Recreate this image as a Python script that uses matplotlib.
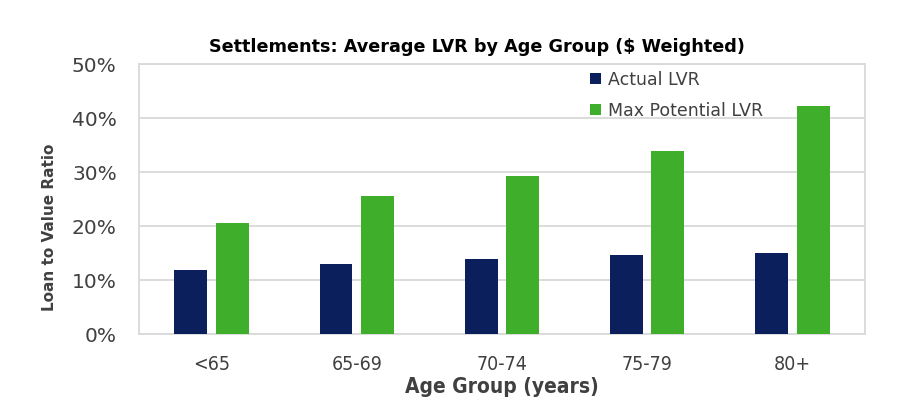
import numpy as np
import matplotlib.pyplot as plt
from matplotlib.ticker import PercentFormatter

# values (percent)
age_groups = ['<65', '65-69', '70-74', '75-79', '80+']
actual_lvr = [11.9, 13.1, 14.0, 14.6, 15.1]
max_potential_lvr = [20.6, 25.7, 29.4, 33.9, 42.2]

navy = '#0A1F5C'
green = '#3FAE2A'
grey_text = '#404040'
grid_grey = '#D9D9D9'

fig = plt.figure(figsize=(9, 4.18), dpi=100)
ax = fig.add_axes([0.1544, 0.2002, 0.8066, 0.6458])

x = np.arange(len(age_groups))
w = 0.227
off = 0.143
ax.bar(x - off, actual_lvr, w, color=navy, label='Actual LVR', zorder=3)
ax.bar(x + off, max_potential_lvr, w, color=green, label='Max Potential LVR', zorder=3)

ax.set_xlim(-0.5, len(age_groups) - 0.5)
ax.set_ylim(0, 50)
ax.set_yticks(np.arange(0, 51, 10))
ax.yaxis.set_major_formatter(PercentFormatter(decimals=0))
ax.grid(axis='y', color=grid_grey, linewidth=1.3, zorder=0)
for s in ax.spines.values():
    s.set_color(grid_grey)
    s.set_linewidth(1.3)
ax.tick_params(axis='both', length=0)
ax.tick_params(axis='y', labelsize=14.5, labelcolor=grey_text, pad=16)
ax.set_xticks(x)
ax.set_xticklabels(age_groups, fontsize=14, color=grey_text, fontstretch='condensed')
ax.tick_params(axis='x', pad=15)

ax.set_xlabel('Age Group (years)', fontsize=15, fontweight='bold', color=grey_text,
              fontstretch='condensed', labelpad=2)
ax.set_ylabel('Loan to Value Ratio', fontsize=11, fontweight='bold', color=grey_text)
ax.yaxis.set_label_coords(-0.113, 0.396)

fig.text(0.53, 0.888, 'Settlements: Average LVR by Age Group ($ Weighted)',
         ha='center', va='center', fontsize=12.7, fontweight='bold', color='black')

ax.legend(loc='upper left', bbox_to_anchor=(0.6, 1.035), frameon=False,
          fontsize=12.5, labelcolor=grey_text, handlelength=0.6, handleheight=0.6,
          handletextpad=0.4, labelspacing=0.75)

fig.savefig('out.png', dpi=100)
